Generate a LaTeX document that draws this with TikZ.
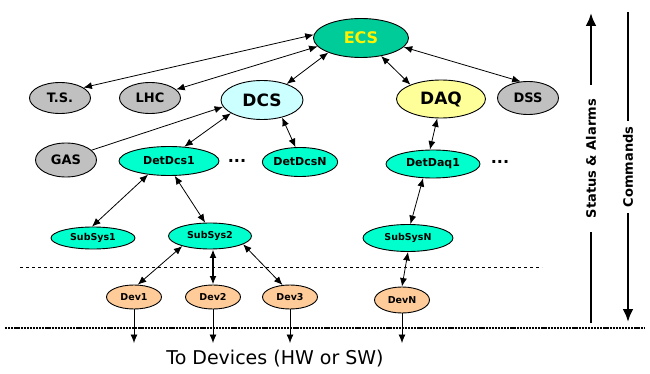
\documentclass[tikz,border=0pt]{standalone}
\usepackage{fontspec}
\setmainfont{DejaVu Sans}
\usetikzlibrary{shapes.geometric,arrows.meta}

\definecolor{ecsgreen}{RGB}{0,204,153}
\definecolor{dcscyan}{RGB}{204,255,255}
\definecolor{daqyellow}{RGB}{255,255,153}
\definecolor{extgrey}{RGB}{192,192,192}
\definecolor{detaqua}{RGB}{0,255,204}
\definecolor{devpeach}{RGB}{255,204,153}

\begin{document}
\begin{tikzpicture}[x=1pt,y=-1pt,>={Latex[length=8.5pt,width=7pt]},
  unit/.style={ellipse,draw,line width=0.9pt,inner sep=0pt,font=\bfseries},
  ext/.style={unit,fill=extgrey,minimum width=61pt,minimum height=31pt,font=\bfseries\fontsize{13}{13}\selectfont},
  det/.style={unit,fill=detaqua,minimum height=29pt,font=\bfseries\fontsize{11}{11}\selectfont},
  sub/.style={unit,fill=detaqua,minimum height=24pt,font=\bfseries\fontsize{9.5}{9.5}\selectfont},
  dev/.style={unit,fill=devpeach,minimum width=55pt,minimum height=24pt,font=\bfseries\fontsize{9.5}{9.5}\selectfont},
  link/.style={<->,line width=0.8pt},
  flow/.style={-{Latex[length=13pt,width=11pt]},line width=2.6pt}]
  \useasboundingbox (0,0) rectangle (650,374);

  % Top level
  \node[unit,fill=ecsgreen,minimum width=95pt,minimum height=39pt,text=yellow,
    font=\bfseries\fontsize{16}{16}\selectfont] (ecs) at (361,38) {ECS};

  % Second level
  \node[ext] (ts) at (60,98) {T.S.};
  \node[ext] (lhc) at (150,98) {LHC};
  \node[unit,fill=dcscyan,minimum width=82pt,minimum height=39pt,
    font=\bfseries\fontsize{17}{17}\selectfont] (dcs) at (262,100) {DCS};
  \node[unit,fill=daqyellow,minimum width=89pt,minimum height=38pt,
    font=\bfseries\fontsize{17}{17}\selectfont] (daq) at (441,99) {DAQ};
  \node[ext,minimum height=33pt] (dss) at (528,98) {DSS};

  % Detector level
  \node[ext,minimum height=34pt] (gas) at (66,160) {GAS};
  \node[det,minimum width=100pt] (dcs1) at (169,161) {DetDcs1};
  \node[det,minimum width=74pt] (dcsn) at (300,162) {DetDcsN};
  \node[det,minimum width=94pt,minimum height=28pt] (daq1) at (433,164) {DetDaq1};
  \node[font=\bfseries\fontsize{16}{16}\selectfont] (dotsa) at (237,161) {...};
  \node[font=\bfseries\fontsize{16}{16}\selectfont] (dotsb) at (500,162) {...};

  % Sub-systems
  \node[sub,minimum width=84pt,minimum height=22pt] (sub1) at (93,238) {SubSys1};
  \node[sub,minimum width=83pt,minimum height=26pt] (sub2) at (210,236) {SubSys2};
  \node[sub,minimum width=90pt,minimum height=27pt] (subn) at (408,238) {SubSysN};

  % Devices
  \node[dev] (dev1) at (134,297) {Dev1};
  \node[dev] (dev2) at (213,297) {Dev2};
  \node[dev] (dev3) at (290,297) {Dev3};
  \node[dev,minimum height=26pt] (devn) at (402,300) {DevN};

  % Links
  \draw[link] (ecs.176) -- (ts.24);
  \draw[link] (ecs.191) -- (lhc.18);
  \draw[link] (ecs.204) -- (dcs.33);
  \draw[->,line width=0.8pt] (gas.21) -- (dcs.190);
  \draw[link] (ecs.318) -- (daq.155);
  \draw[link] (ecs.348) -- (dss.114);
  \draw[link] (dcs.203) -- (dcs1.43);
  \draw[link] (dcs.319) -- (dcsn.107);
  \draw[link] (daq.259) -- (daq1.102);
  \draw[link] (dcs1.213) -- (sub1.95);
  \draw[link] (dcs1.291) -- (sub2.110);
  \draw[link] (daq1.235) -- (subn.80);
  \draw[link] (sub2.200) -- (dev1.73);
  \draw[link,line width=1.6pt] (dev2.north |- sub2.south) -- (dev2.north);
  \draw[link] (sub2.346) -- (dev3.122);
  \draw[link] (subn.south) -- (devn.north);

  % Boundaries
  \draw[dashed,line width=0.7pt] (20,267) -- (542,267);
  \draw[line width=2.6pt,dash pattern=on 2.2pt off 0.9pt] (5,328) -- (645,328);

  % Outputs to devices
  \coordinate (hw) at (0,343);
  \foreach \d in {dev1,dev2,dev3,devn}
    \draw[->,line width=0.8pt] (\d.south) -- (\d.south |- hw);
  \node[font=\fontsize{19}{19}\selectfont] (todev) at (275,359) {To Devices (HW or SW)};

  % Flow directions
  \draw[flow] (591,323) -- (591,13)
    node[pos=0.53,fill=white,rotate=90,inner xsep=14pt,inner ysep=1pt,
      font=\bfseries\fontsize{13}{13}\selectfont] (status) {Status \& Alarms};
  \draw[flow] (628,12) -- (628,322)
    node[pos=0.5,fill=white,rotate=90,inner xsep=6pt,inner ysep=1pt,
      font=\bfseries\fontsize{13}{13}\selectfont] (cmds) {Commands};
\end{tikzpicture}
\end{document}
